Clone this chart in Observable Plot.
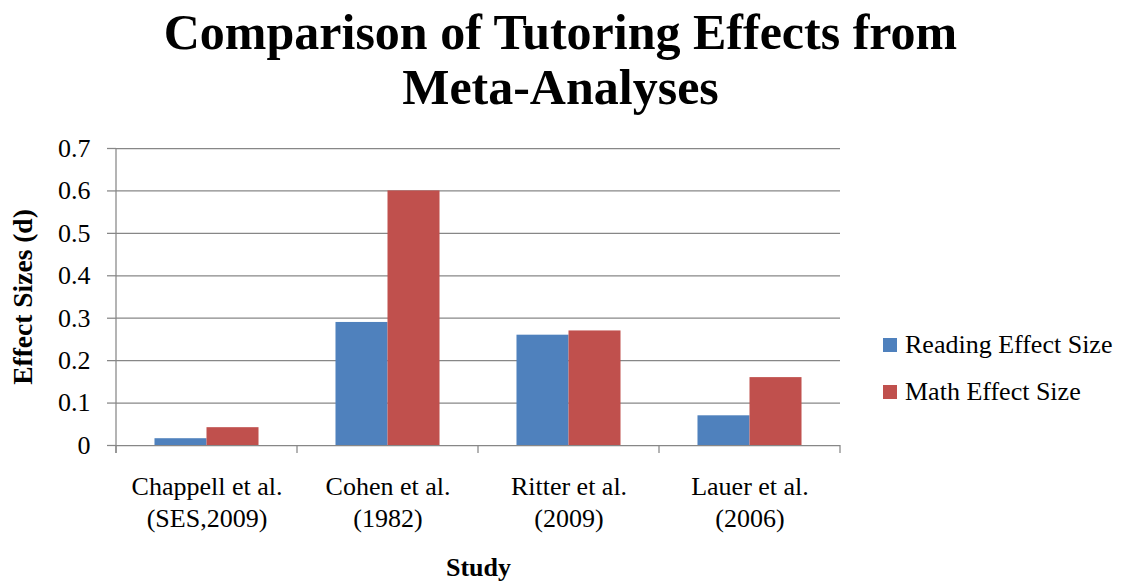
<!DOCTYPE html>
<html>
<head>
<meta charset="utf-8">
<script src="https://cdn.jsdelivr.net/npm/d3@7"></script>
<script src="https://cdn.jsdelivr.net/npm/@observablehq/plot@0.6"></script>
<style>
  body { margin: 0; background: #fff; }
  #wrap { position: relative; width: 1121px; height: 582px; overflow: hidden; font-family: "Liberation Serif", serif; color: #000; }
  #title { height: 128px; box-sizing: border-box; padding-top: 5px; text-align: center; font-weight: bold; font-size: 50px; line-height: 55px; white-space: nowrap; }
  #chart svg { display: block; }
  .lg-row { position: absolute; left: 883px; height: 26px; display: flex; align-items: center; font-size: 26px; line-height: 26px; white-space: nowrap; }
  .lg-sw { width: 14px; height: 14px; margin-right: 8px; flex: none; }
  g[aria-label="y-axis label"] { font-weight: bold; font-size: 27.5px; }
  g[aria-label="fx-axis label"] { font-weight: bold; }
</style>
</head>
<body>
<div id="wrap">
  <div id="title">Comparison of Tutoring Effects from<br>Meta-Analyses</div>
  <div id="chart"></div>
</div>
<script>
const studies = ["Chappell et al.\n(SES,2009)", "Cohen et al.\n(1982)", "Ritter et al.\n(2009)", "Lauer et al.\n(2006)"];
const series = ["Reading Effect Size", "Math Effect Size"];
const reading = [0.016, 0.29, 0.26, 0.07];
const math = [0.042, 0.6, 0.27, 0.16];
const yTicks = [0, 0.1, 0.2, 0.3, 0.4, 0.5, 0.6, 0.7];
const colors = ["#4F81BD", "#C0504D"];

const data = studies.flatMap((s, i) => [
  {study: s, series: series[0], value: reading[i]},
  {study: s, series: series[1], value: math[i]}
]);

const gridColor = "#878787";

const plot = Plot.plot({
  width: 1121,
  height: 454,
  marginLeft: 116,
  marginRight: 281,
  marginTop: 20,
  marginBottom: 137,
  style: {fontFamily: "Liberation Serif", fontSize: "26px", color: "black", background: "white"},
  fx: {domain: studies, padding: 0, round: false},
  x: {domain: series, paddingInner: 0, paddingOuter: 0.74, round: false, axis: null},
  y: {domain: [0, 0.7]},
  color: {domain: series, range: colors},
  marks: [
    Plot.gridY(yTicks, {stroke: gridColor, strokeOpacity: 1, strokeWidth: 1.25}),
    Plot.barY(data, {fx: "study", x: "series", y: "value", fill: "series"}),
    Plot.axisY(yTicks, {
      tickSize: 9, tickPadding: 17, stroke: gridColor, strokeWidth: 1.25, strokeOpacity: 1,
      fontSize: 26, tickFormat: d => String(d),
      label: "Effect Sizes (d)", labelAnchor: "center", labelOffset: 104, labelArrow: "none"
    }),
    Plot.axisFx({
      anchor: "bottom",
      tickSize: 0, tickPadding: 27, fontSize: 26, lineHeight: 32 / 26,
      label: "Study", labelAnchor: "center", labelOffset: 130, labelArrow: "none"
    })
  ]
});

// axis line and category boundary ticks, positioned with the plot's own scales
const fx = plot.scale("fx"), y = plot.scale("y");
const y0 = y.apply(0), yTop = y.apply(0.7);
const edges = studies.map(s => fx.apply(s)).concat([fx.apply(studies[studies.length - 1]) + fx.bandwidth]);
const g = d3.select(plot).append("g").attr("stroke", gridColor).attr("stroke-width", 1.25);
g.append("line").attr("x1", edges[0]).attr("x2", edges[0]).attr("y1", yTop).attr("y2", y0 + 8);
edges.forEach(e => g.append("line").attr("x1", e).attr("x2", e).attr("y1", y0).attr("y2", y0 + 8));

document.getElementById("chart").appendChild(plot);

// legend
const wrap = document.getElementById("wrap");
const rowCenters = [345, 392];
series.forEach((s, i) => {
  const row = document.createElement("div");
  row.className = "lg-row";
  row.style.top = (rowCenters[i] - 13) + "px";
  const sw = document.createElement("span");
  sw.className = "lg-sw";
  sw.style.background = colors[i];
  const tx = document.createElement("span");
  tx.textContent = s;
  row.appendChild(sw);
  row.appendChild(tx);
  wrap.appendChild(row);
});
</script>
</body>
</html>
